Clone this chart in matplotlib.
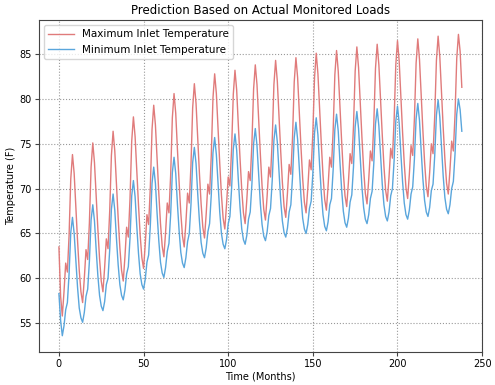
import numpy as np
import matplotlib.pyplot as plt

# monthly values, one row per year (months 0-11, 12-23, ...)
max_temp_rows = [
    [63.5, 58.0, 55.8, 58.5, 61.7, 60.7, 64.8, 71.1, 73.8, 71.7, 67.9, 64.2],
    [60.9, 58.5, 57.3, 60.0, 63.2, 62.1, 66.2, 72.4, 75.1, 72.9, 69.1, 65.5],
    [62.2, 59.7, 58.5, 61.2, 64.4, 63.3, 67.5, 73.7, 76.4, 74.2, 70.4, 66.7],
    [63.4, 60.9, 59.7, 62.4, 65.7, 64.6, 68.9, 75.3, 78.0, 75.8, 71.9, 68.2],
    [64.8, 62.3, 61.1, 63.8, 67.1, 66.0, 70.2, 76.6, 79.3, 77.1, 73.2, 69.5],
    [66.1, 63.6, 62.4, 65.1, 68.4, 67.3, 71.5, 77.9, 80.6, 78.4, 74.4, 70.7],
    [67.3, 64.7, 63.5, 66.2, 69.5, 68.4, 72.6, 79.0, 81.7, 79.5, 75.5, 71.7],
    [68.3, 65.7, 64.5, 67.2, 70.5, 69.4, 73.7, 80.1, 82.8, 80.6, 76.6, 72.8],
    [69.3, 66.7, 65.5, 68.2, 71.3, 70.3, 74.4, 80.5, 83.2, 81.0, 77.0, 73.3],
    [69.9, 67.3, 66.1, 68.8, 71.9, 70.9, 75.0, 81.1, 83.8, 81.6, 77.6, 73.8],
    [70.3, 67.7, 66.5, 69.2, 72.4, 71.3, 75.4, 81.6, 84.3, 82.0, 78.0, 74.2],
    [70.7, 68.0, 66.8, 69.5, 72.7, 71.6, 75.7, 81.9, 84.6, 82.4, 78.4, 74.6],
    [71.1, 68.5, 67.3, 70.0, 73.2, 72.1, 76.2, 82.4, 85.1, 82.8, 78.8, 75.0],
    [71.5, 68.8, 67.6, 70.3, 73.5, 72.4, 76.5, 82.7, 85.4, 83.1, 79.1, 75.3],
    [71.8, 69.2, 68.0, 70.7, 73.9, 72.8, 76.9, 83.1, 85.8, 83.5, 79.5, 75.7],
    [72.2, 69.5, 68.3, 71.0, 74.2, 73.1, 77.2, 83.4, 86.1, 83.8, 79.8, 76.0],
    [72.5, 69.8, 68.6, 71.3, 74.5, 73.4, 77.6, 83.8, 86.5, 84.2, 80.2, 76.3],
    [72.8, 70.1, 68.9, 71.6, 74.8, 73.7, 77.8, 84.0, 86.7, 84.4, 80.4, 76.5],
    [73.0, 70.3, 69.1, 71.8, 75.0, 73.9, 78.1, 84.3, 87.0, 84.7, 80.7, 76.8],
    [73.3, 70.6, 69.4, 72.1, 75.3, 74.2, 78.3, 84.5, 87.2, 85.3, 81.3],
]

min_temp_rows = [
    [58.3, 55.3, 53.6, 54.7, 56.5, 57.3, 60.5, 65.1, 66.8, 65.0, 61.9, 59.0],
    [56.7, 55.6, 55.1, 56.2, 58.0, 58.8, 61.9, 66.5, 68.2, 66.4, 63.2, 60.3],
    [58.1, 56.9, 56.4, 57.4, 59.3, 60.0, 63.2, 67.7, 69.4, 67.6, 64.4, 61.5],
    [59.3, 58.1, 57.6, 58.7, 60.5, 61.3, 64.5, 69.2, 70.9, 69.1, 65.8, 62.8],
    [60.5, 59.3, 58.8, 59.9, 61.8, 62.6, 65.9, 70.6, 72.4, 70.6, 67.2, 64.2],
    [61.8, 60.6, 60.1, 61.2, 63.0, 63.9, 67.1, 71.8, 73.5, 71.7, 68.3, 65.3],
    [62.9, 61.7, 61.2, 62.3, 64.1, 65.0, 68.2, 72.9, 74.6, 72.8, 69.4, 66.4],
    [64.0, 62.8, 62.3, 63.4, 65.2, 66.1, 69.3, 74.0, 75.7, 73.8, 70.5, 67.4],
    [65.0, 63.8, 63.3, 64.3, 66.1, 66.9, 70.0, 74.4, 76.1, 74.3, 70.9, 67.9],
    [65.5, 64.3, 63.8, 64.8, 66.6, 67.4, 70.5, 75.0, 76.7, 74.8, 71.5, 68.3],
    [66.0, 64.7, 64.2, 65.2, 67.0, 67.8, 70.9, 75.4, 77.1, 75.2, 71.9, 68.7],
    [66.4, 65.1, 64.6, 65.6, 67.4, 68.2, 71.3, 75.7, 77.4, 75.5, 72.2, 69.1],
    [66.7, 65.5, 65.0, 66.0, 67.8, 68.6, 71.7, 76.2, 77.9, 76.0, 72.6, 69.5],
    [67.1, 65.8, 65.3, 66.3, 68.2, 68.9, 72.1, 76.6, 78.3, 76.4, 73.0, 69.9],
    [67.5, 66.2, 65.7, 66.7, 68.5, 69.3, 72.4, 76.9, 78.6, 76.7, 73.4, 70.2],
    [67.9, 66.6, 66.1, 67.1, 68.9, 69.7, 72.8, 77.2, 78.9, 77.0, 73.7, 70.5],
    [68.2, 66.9, 66.4, 67.4, 69.2, 70.0, 73.1, 77.5, 79.2, 77.3, 73.9, 70.8],
    [68.4, 67.1, 66.6, 67.6, 69.4, 70.2, 73.3, 77.8, 79.5, 77.6, 74.2, 71.1],
    [68.7, 67.4, 66.9, 67.9, 69.8, 70.5, 73.7, 78.2, 79.9, 78.0, 74.6, 71.4],
    [69.0, 67.7, 67.2, 68.2, 70.0, 70.8, 73.9, 78.3, 80.0, 78.8, 76.4],
]

max_temp = np.concatenate(max_temp_rows)
min_temp = np.concatenate(min_temp_rows)
months = np.arange(len(max_temp))

fig = plt.figure(figsize=(4.95, 3.85), dpi=100)
ax = fig.add_axes([0.078, 0.086, 0.896, 0.862])

ax.plot(months, max_temp, color='#e07b7b', lw=1.0, label='Maximum Inlet Temperature')
ax.plot(months, min_temp, color='#5aa6dc', lw=1.0, label='Minimum Inlet Temperature')

ax.set_xlim(-12, 250)
ax.set_ylim(51.8, 88.8)
ax.set_xticks(np.arange(0, 251, 50))
ax.set_yticks(np.arange(55, 86, 5))
ax.grid(True, linestyle=':', color='#999999', lw=0.8)
ax.tick_params(labelsize=7, length=3, pad=2, color='#444444')
for s in ax.spines.values():
    s.set_color('#444444')

ax.set_title('Prediction Based on Actual Monitored Loads', fontsize=8.5, pad=4)
ax.set_xlabel('Time (Months)', fontsize=7, labelpad=2)
ax.set_ylabel('Temperature (F)', fontsize=7, labelpad=2)
ax.legend(loc='upper left', fontsize=7.5, handlelength=2.5)

fig.savefig('out.png', dpi=100)
